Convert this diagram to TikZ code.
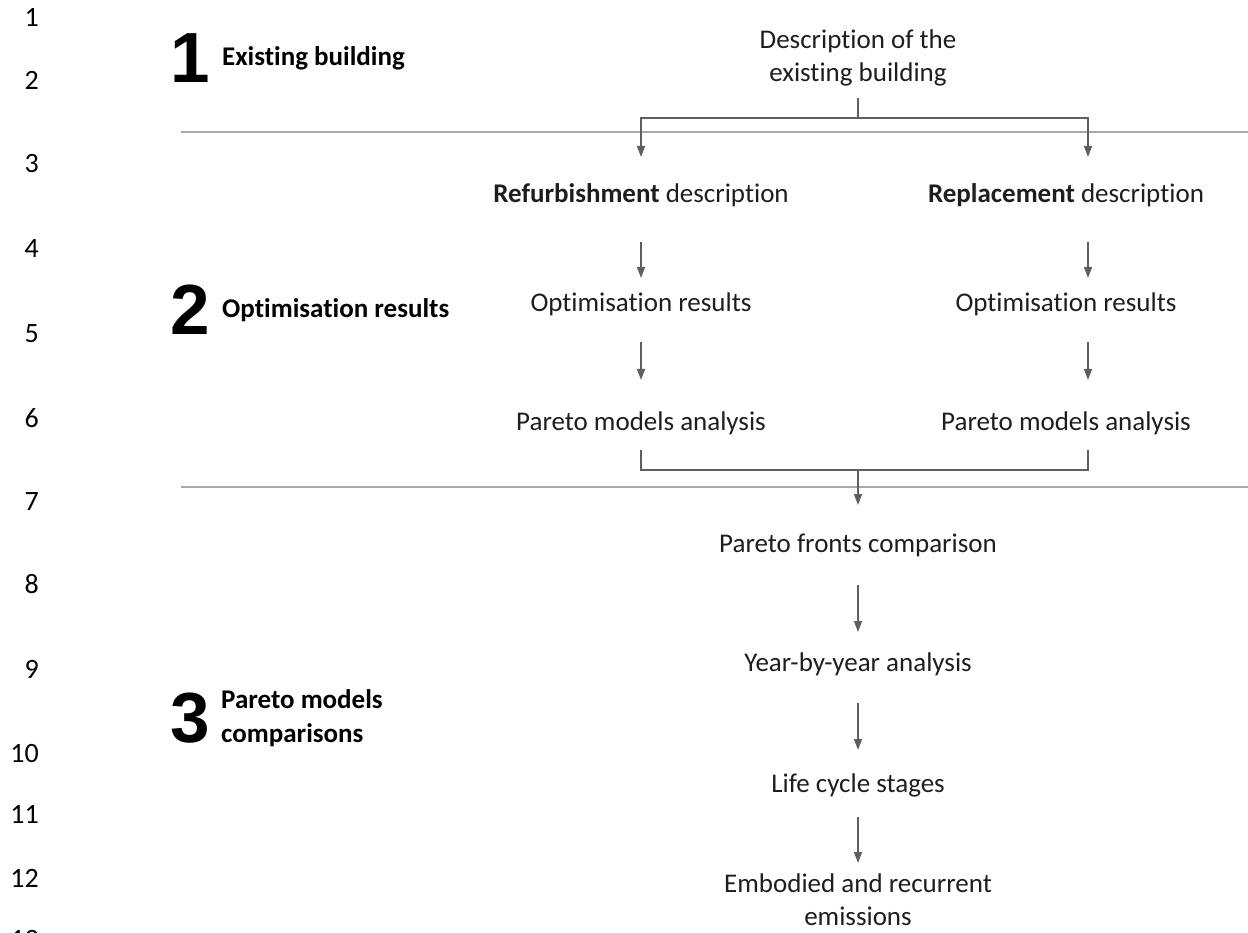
\documentclass[tikz,border=0pt]{standalone}
\usepackage{fontspec}
\setmainfont{Carlito}[Ligatures=NoCommon]
\newfontfamily\numfont{Liberation Sans}
\usepackage{tikz}
\usetikzlibrary{positioning, calc, arrows.meta}

\definecolor{linkgray}{HTML}{5F5F5F}
\definecolor{sepgray}{HTML}{A8A8A8}
\definecolor{textdark}{HTML}{1E1E1E}

\begin{document}
\begin{tikzpicture}[
		x=1pt, y=-1pt,
		% --- STYLES ---
		linenum/.style={
			anchor=base east,
			inner sep=0pt,
			font=\fontsize{28}{28}\selectfont
		},
		bignum/.style={
			anchor=base,
			inner sep=0pt,
			font=\numfont\bfseries\fontsize{71}{71}\selectfont
		},
		phase/.style={
			inner sep=0pt,
			align=left,
			font=\bfseries\fontsize{27}{34}\selectfont
		},
		stage/.style={
			inner sep=0pt,
			align=center,
			text=textdark,
			font=\fontsize{27}{33}\selectfont
		},
		link/.style={
			draw=linkgray,
			line width=1.5pt
		},
		flow/.style={
			link,
			-{Triangle[length=11pt, width=8pt]}
		},
		sepline/.style={
			draw=sepgray,
			line width=2pt
		}
		]
		
		\useasboundingbox (0,0) rectangle (1248,933);
		\clip (0,0) rectangle (1248,933);
		
		% --- LINE NUMBERS ---
		\foreach \n/\y in {1/27, 2/90, 3/173, 4/258, 5/342, 6/427, 7/510,
			8/593, 9/678, 10/762, 11/823, 12/887, 13/948}
		\node (ln\n) [linenum] at (39,\y) {\n};
		
		% --- PHASES ---
		\node (num1) [bignum] at (190,83) {1};
		\node (lab1) [phase, right=12pt of num1.east] {Existing building};
		
		\node (num2) [bignum] at (190,335) {2};
		\node (lab2) [phase, right=12pt of num2.east] {Optimisation results};
		
		\node (num3) [bignum] at (190,742) {3};
		\node (lab3) [phase, anchor=west] at (221,718) {Pareto models\\comparisons};
		
		% --- SEPARATORS ---
		\draw [sepline] (181,132) -- (1248,132);
		\draw [sepline] (181,487) -- (1248,487);
		
		% --- STAGES ---
		\node (desc) [stage] at (858,58) {Description of the\\existing building};
		
		\node (refurb) [stage] at (641,195) {\textbf{Refurbishment} description};
		\node (repl) [stage] at (1066,195) {\textbf{Replacement} description};
		
		\node (optL) [stage] at (641,304) {Optimisation results};
		\node (optR) [stage] at (1066,304) {Optimisation results};
		
		\node (parL) [stage] at (641,423) {Pareto models analysis};
		\node (parR) [stage] at (1066,423) {Pareto models analysis};
		
		\node (fronts) [stage] at (858,545) {Pareto fronts comparison};
		\node (year) [stage] at (858,664) {Year-by-year analysis};
		\node (life) [stage] at (858,785) {Life cycle stages};
		\node (emb) [stage] at (858,900) {Embodied and recurrent\\emissions};
		
		% --- SPLIT ---
		\coordinate (split) at (858,118);
		\draw [link, shorten <=40pt] (desc.center) -- (split);
		\draw [flow, shorten >=38pt] (split) -| (refurb.center);
		\draw [flow, shorten >=38pt] (split) -| ([xshift=22pt]repl.center);
		
		% --- COLUMNS ---
		\draw [flow, shorten <=47pt, shorten >=26pt] (refurb.center) -- (optL.center);
		\draw [flow, shorten <=38pt, shorten >=43pt] (optL.center) -- (parL.center);
		\draw [flow, shorten <=47pt, shorten >=26pt] ([xshift=22pt]repl.center) -- ([xshift=22pt]optR.center);
		\draw [flow, shorten <=38pt, shorten >=43pt] ([xshift=22pt]optR.center) -- ([xshift=22pt]parR.center);
		
		% --- MERGE ---
		\coordinate (merge) at (858,470);
		\draw [link] ([yshift=-27pt]parL.center) |- (merge) -| ([xshift=22pt, yshift=-27pt]parR.center);
		\draw [flow, shorten >=40pt] (merge) -- (fronts.center);
		
		% --- COMPARISONS ---
		\draw [flow, shorten <=40pt, shorten >=32pt] (fronts.center) -- (year.center);
		\draw [flow, shorten <=39pt, shorten >=35pt] (year.center) -- (life.center);
		\draw [flow, shorten <=32pt, shorten >=37pt] (life.center) -- (emb.center);
		
	\end{tikzpicture}
\end{document}
